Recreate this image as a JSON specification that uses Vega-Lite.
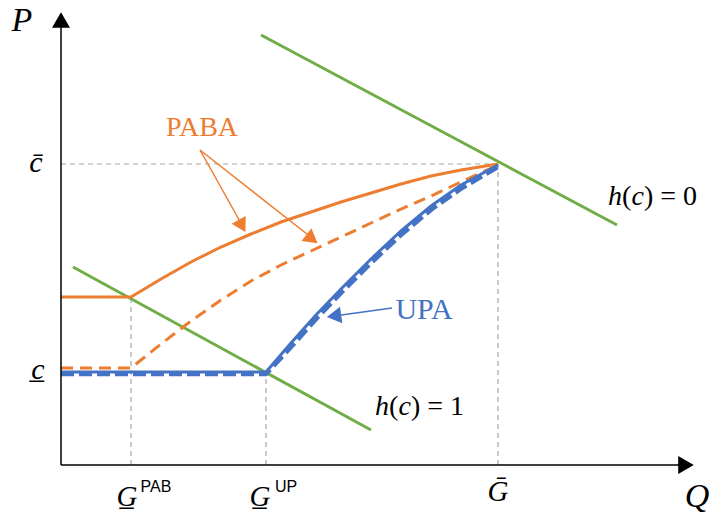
{
  "$schema": "https://vega.github.io/schema/vega-lite/v6.json",
  "width": 711,
  "height": 517,
  "padding": 0,
  "autosize": {"type": "fit", "contains": "padding"},
  "config": {"view": {"stroke": null}},
  "datasets": {
    "segs": [
      {"k": "grid", "Q": 0, "P": 301, "Q2": 437, "P2": 301},
      {"k": "grid", "Q": 70, "P": 0, "Q2": 70, "P2": 168},
      {"k": "grid", "Q": 205, "P": 0, "Q2": 205, "P2": 93},
      {"k": "grid", "Q": 437, "P": 0, "Q2": 437, "P2": 301},
      {"k": "green", "Q": 200, "P": 430, "Q2": 556, "P2": 240},
      {"k": "green", "Q": 12, "P": 198, "Q2": 310, "P2": 35},
      {"k": "axis", "Q": 0, "P": 0, "Q2": 0, "P2": 440},
      {"k": "axis", "Q": 0, "P": 0, "Q2": 620, "P2": 0},
      {"k": "arrO", "Q": 139, "P": 315, "Q2": 181, "P2": 240},
      {"k": "arrO", "Q": 139, "P": 315, "Q2": 251, "P2": 227},
      {"k": "arrB", "Q": 331, "P": 157, "Q2": 273, "P2": 149}
    ],
    "curves": [
      {"s": "os", "Q": 0, "P": 168}, {"s": "os", "Q": 70, "P": 168}, {"s": "os", "Q": 100, "P": 186},
      {"s": "os", "Q": 130, "P": 203}, {"s": "os", "Q": 160, "P": 218}, {"s": "os", "Q": 190, "P": 231},
      {"s": "os", "Q": 220, "P": 243}, {"s": "os", "Q": 250, "P": 253}, {"s": "os", "Q": 280, "P": 263},
      {"s": "os", "Q": 310, "P": 272}, {"s": "os", "Q": 340, "P": 281}, {"s": "os", "Q": 370, "P": 289},
      {"s": "os", "Q": 400, "P": 295}, {"s": "os", "Q": 437, "P": 301},
      {"s": "od", "Q": 0, "P": 97}, {"s": "od", "Q": 70, "P": 97}, {"s": "od", "Q": 100, "P": 121},
      {"s": "od", "Q": 130, "P": 144}, {"s": "od", "Q": 160, "P": 165}, {"s": "od", "Q": 190, "P": 184},
      {"s": "od", "Q": 220, "P": 200}, {"s": "od", "Q": 250, "P": 214}, {"s": "od", "Q": 280, "P": 228},
      {"s": "od", "Q": 310, "P": 242}, {"s": "od", "Q": 340, "P": 256}, {"s": "od", "Q": 370, "P": 269},
      {"s": "od", "Q": 400, "P": 283}, {"s": "od", "Q": 437, "P": 300},
      {"s": "bs", "Q": 0, "P": 93}, {"s": "bs", "Q": 205, "P": 93}, {"s": "bs", "Q": 230, "P": 122},
      {"s": "bs", "Q": 255, "P": 150}, {"s": "bs", "Q": 280, "P": 176}, {"s": "bs", "Q": 310, "P": 206},
      {"s": "bs", "Q": 340, "P": 234}, {"s": "bs", "Q": 370, "P": 259}, {"s": "bs", "Q": 400, "P": 280},
      {"s": "bs", "Q": 437, "P": 300},
      {"s": "bd", "Q": 0, "P": 91}, {"s": "bd", "Q": 205, "P": 91}, {"s": "bd", "Q": 231, "P": 119},
      {"s": "bd", "Q": 256, "P": 147}, {"s": "bd", "Q": 281, "P": 173}, {"s": "bd", "Q": 311, "P": 203},
      {"s": "bd", "Q": 341, "P": 231}, {"s": "bd", "Q": 371, "P": 256}, {"s": "bd", "Q": 401, "P": 277},
      {"s": "bd", "Q": 437, "P": 298}
    ],
    "heads": [
      {"k": "axis", "Q": 0, "P": 445, "a": 0},
      {"k": "axis", "Q": 625, "P": 0, "a": 90},
      {"k": "o", "Q": 181, "P": 239, "a": 151},
      {"k": "o", "Q": 251, "P": 226, "a": 128},
      {"k": "b", "Q": 273, "P": 149, "a": 262}
    ],
    "labels": [
      {"t": "P", "Q": -39, "P": 444, "s": 34},
      {"t": "Q", "Q": 636, "P": -32, "s": 34},
      {"t": "c̄", "Q": -25, "P": 302, "s": 30},
      {"t": "c̲", "Q": -23, "P": 95, "s": 30},
      {"t": "G̲", "Q": 66, "P": -32, "s": 29},
      {"t": "G̲", "Q": 199, "P": -32, "s": 29},
      {"t": "Ḡ", "Q": 437, "P": -27, "s": 29}
    ],
    "sups": [
      {"t": "PAB", "Q": 95, "P": -22},
      {"t": "UP", "Q": 225, "P": -22}
    ],
    "eqi": [
      {"t": "h", "Q": 547, "P": 268}, {"t": "c", "Q": 570.5, "P": 268},
      {"t": "h", "Q": 314, "P": 58}, {"t": "c", "Q": 337.5, "P": 58}
    ],
    "equ": [
      {"t": "(", "Q": 561, "P": 268}, {"t": ") = 0", "Q": 583, "P": 268},
      {"t": "(", "Q": 328, "P": 58}, {"t": ") = 1", "Q": 350, "P": 58}
    ],
    "names": [
      {"t": "PABA", "Q": 141, "P": 337, "c": "o", "s": 28},
      {"t": "UPA", "Q": 363, "P": 155, "c": "b", "s": 30}
    ]
  },
  "encoding": {
    "x": {"field": "Q", "type": "quantitative", "scale": {"domain": [-61, 650], "nice": false, "zero": false}, "axis": null},
    "y": {"field": "P", "type": "quantitative", "scale": {"domain": [-52, 465], "nice": false, "zero": false}, "axis": null}
  },
  "layer": [
    {
      "data": {"name": "segs"},
      "transform": [{"filter": "datum.k == 'grid'"}],
      "mark": {"type": "rule", "color": "#a6a6a6", "strokeWidth": 1.2, "strokeDash": [5, 4]},
      "encoding": {"x2": {"field": "Q2"}, "y2": {"field": "P2"}}
    },
    {
      "data": {"name": "segs"},
      "transform": [{"filter": "datum.k == 'green'"}],
      "mark": {"type": "rule", "color": "#70ad47", "strokeWidth": 3},
      "encoding": {"x2": {"field": "Q2"}, "y2": {"field": "P2"}}
    },
    {
      "data": {"name": "curves"},
      "transform": [{"filter": "datum.s == 'od'"}],
      "mark": {"type": "line", "color": "#ed7d31", "strokeWidth": 3, "strokeDash": [12, 7], "interpolate": "linear"},
      "encoding": {"order": {"field": "Q", "type": "quantitative"}}
    },
    {
      "data": {"name": "curves"},
      "transform": [{"filter": "datum.s == 'os'"}],
      "mark": {"type": "line", "color": "#ed7d31", "strokeWidth": 3, "interpolate": "linear"},
      "encoding": {"order": {"field": "Q", "type": "quantitative"}}
    },
    {
      "data": {"name": "curves"},
      "transform": [{"filter": "datum.s == 'bd'"}],
      "mark": {"type": "line", "color": "#4472c4", "strokeWidth": 4.5, "strokeDash": [13, 5], "interpolate": "linear"},
      "encoding": {"order": {"field": "Q", "type": "quantitative"}}
    },
    {
      "data": {"name": "curves"},
      "transform": [{"filter": "datum.s == 'bs'"}],
      "mark": {"type": "line", "color": "#4472c4", "strokeWidth": 3, "interpolate": "linear"},
      "encoding": {"order": {"field": "Q", "type": "quantitative"}}
    },
    {
      "data": {"name": "segs"},
      "transform": [{"filter": "datum.k == 'axis'"}],
      "mark": {"type": "rule", "color": "#000000", "strokeWidth": 1.5},
      "encoding": {"x2": {"field": "Q2"}, "y2": {"field": "P2"}}
    },
    {
      "data": {"name": "segs"},
      "transform": [{"filter": "datum.k == 'arrO'"}],
      "mark": {"type": "rule", "color": "#ed7d31", "strokeWidth": 1.5},
      "encoding": {"x2": {"field": "Q2"}, "y2": {"field": "P2"}}
    },
    {
      "data": {"name": "segs"},
      "transform": [{"filter": "datum.k == 'arrB'"}],
      "mark": {"type": "rule", "color": "#4472c4", "strokeWidth": 1.5},
      "encoding": {"x2": {"field": "Q2"}, "y2": {"field": "P2"}}
    },
    {
      "data": {"name": "heads"},
      "transform": [{"filter": "datum.k == 'axis'"}],
      "mark": {"type": "point", "shape": "triangle-up", "filled": true, "color": "#000000", "size": 324, "opacity": 1},
      "encoding": {"angle": {"field": "a", "type": "quantitative", "scale": null}}
    },
    {
      "data": {"name": "heads"},
      "transform": [{"filter": "datum.k == 'o'"}],
      "mark": {"type": "point", "shape": "triangle-up", "filled": true, "color": "#ed7d31", "size": 260, "opacity": 1},
      "encoding": {"angle": {"field": "a", "type": "quantitative", "scale": null}}
    },
    {
      "data": {"name": "heads"},
      "transform": [{"filter": "datum.k == 'b'"}],
      "mark": {"type": "point", "shape": "triangle-up", "filled": true, "color": "#4472c4", "size": 280, "opacity": 1},
      "encoding": {"angle": {"field": "a", "type": "quantitative", "scale": null}}
    },
    {
      "data": {"name": "labels"},
      "mark": {"type": "text", "font": "Liberation Serif", "fontStyle": "italic", "color": "#000000", "baseline": "middle", "align": "center"},
      "encoding": {"text": {"field": "t"}, "size": {"field": "s", "type": "quantitative", "scale": null}}
    },
    {
      "data": {"name": "sups"},
      "mark": {"type": "text", "font": "Liberation Sans", "fontSize": 16, "color": "#000000", "baseline": "middle", "align": "center"},
      "encoding": {"text": {"field": "t"}}
    },
    {
      "data": {"name": "eqi"},
      "mark": {"type": "text", "font": "Liberation Serif", "fontStyle": "italic", "fontSize": 28, "color": "#000000", "baseline": "middle", "align": "left"},
      "encoding": {"text": {"field": "t"}}
    },
    {
      "data": {"name": "equ"},
      "mark": {"type": "text", "font": "Liberation Serif", "fontSize": 28, "color": "#000000", "baseline": "middle", "align": "left"},
      "encoding": {"text": {"field": "t"}}
    },
    {
      "data": {"name": "names"},
      "mark": {"type": "text", "font": "Liberation Serif", "baseline": "middle", "align": "center"},
      "encoding": {
        "text": {"field": "t"},
        "size": {"field": "s", "type": "quantitative", "scale": null},
        "color": {"field": "c", "type": "nominal", "scale": {"domain": ["o", "b"], "range": ["#ed7d31", "#4472c4"]}, "legend": null}
      }
    }
  ]
}
